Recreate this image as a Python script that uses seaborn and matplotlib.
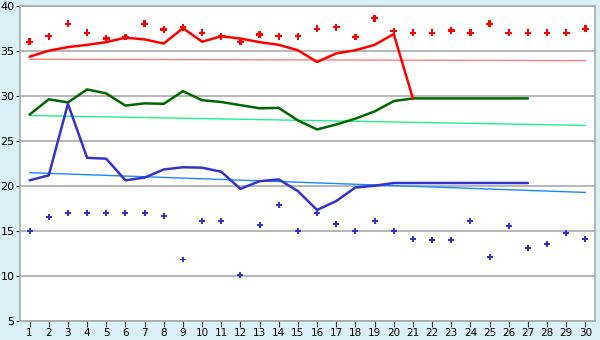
import matplotlib
matplotlib.use("Agg")
import matplotlib.pyplot as plt
import seaborn as sns
import pandas as pd

days = list(range(1, 31))

red_line = [34.33, 35.0, 35.4, 35.65, 35.95, 36.45, 36.25, 35.8, 37.5, 36.0,
            36.6, 36.35, 35.95, 35.65, 35.05, 33.75, 34.7, 35.05, 35.65, 36.85, 29.7]
red_pts = [36.0, 36.6, 38.0, 37.0, 36.35, 36.5, 38.0, 37.35, 37.6, 37.0,
           36.6, 36.0, 36.8, 36.6, 36.6, 37.45, 37.6, 36.5, 38.6, 37.15,
           37.0, 37.0, 37.25, 37.0, 38.0, 37.0, 37.0, 37.0, 37.0, 37.45]
red_trend = [34.05, 33.9]

green_line = [27.9, 29.6, 29.25, 30.7, 30.25, 28.9, 29.15, 29.1, 30.5, 29.5,
              29.3, 28.95, 28.6, 28.65, 27.25, 26.25, 26.8, 27.45, 28.25, 29.4,
              29.7, 29.7, 29.7, 29.7, 29.7, 29.7, 29.7]
green_trend = [27.8, 26.7]

blue_line = [20.6, 21.15, 29.1, 23.1, 23.0, 20.6, 20.9, 21.8, 22.05, 22.0,
             21.55, 19.65, 20.5, 20.7, 19.4, 17.3, 18.3, 19.8, 20.0, 20.3,
             20.3, 20.3, 20.3, 20.3, 20.3, 20.3, 20.3]
blue_pts = [14.95, 16.5, 17.0, 17.0, 17.0, 17.0, 17.0, 16.65, 11.8, 16.05,
            16.05, 10.05, 15.6, 17.9, 15.0, 17.0, 15.7, 15.0, 16.05, 15.0,
            14.05, 13.95, 13.95, 16.05, 12.05, 15.55, 13.05, 13.5, 14.7, 14.05]
blue_trend = [21.45, 19.25]

trend_x = [1, 30]
y_ticks = [5, 10, 15, 20, 25, 30, 35, 40]

BG = "#DAF0F7"
sns.set_theme(style="white")
plt.rcParams['font.family'] = ['DejaVu Sans']

fig = plt.figure(figsize=(6, 3.4), dpi=100, facecolor=BG)
ax = fig.add_axes([20 / 600, 1 - 320.7 / 340, 575 / 600, 315 / 340])
ax.set_facecolor("white")

for y in y_ticks:
    ax.axhline(y, color="#AAAAAA", lw=1.2, zorder=0)

# trend lines
sns.lineplot(x=trend_x, y=red_trend, ax=ax, color="#FF8080", lw=1.0, zorder=1)
sns.lineplot(x=trend_x, y=green_trend, ax=ax, color="#22F08A", lw=1.0, zorder=1)
sns.lineplot(x=trend_x, y=blue_trend, ax=ax, color="#1A88FF", lw=1.0, zorder=1)

# main lines
sns.lineplot(x=days[:len(green_line)], y=green_line, ax=ax, color="#006600", lw=1.8, zorder=3)
sns.lineplot(x=days[:len(blue_line)], y=blue_line, ax=ax, color="#3333CC", lw=1.8, zorder=3)
sns.lineplot(x=days[:len(red_line)], y=red_line, ax=ax, color="#FF0000", lw=1.8, zorder=3)

# points
sns.scatterplot(x=days, y=red_pts, ax=ax, color="#FF0000", marker="P", s=22,
                edgecolor="none", zorder=4)
sns.scatterplot(x=days, y=blue_pts, ax=ax, color="#3333CC", marker="P", s=18,
                edgecolor="none", zorder=4)

ax.set_xlim(0.5, 30.5)
ax.set_ylim(5, 40)
ax.set_xticks(days)
ax.set_xticklabels([str(d) for d in days])
ax.set_yticks(y_ticks)
ax.set_yticklabels([str(v) for v in y_ticks])
ax.tick_params(axis="x", labelsize=7.5, colors="#333333", length=4.3, width=0.8,
               direction="out", pad=1, bottom=True)
ax.tick_params(axis="y", labelsize=8, colors="#333333", length=3, width=0.8,
               direction="out", pad=1, left=True)
ax.tick_params(axis="both", labelcolor="black")
for s in ax.spines.values():
    s.set_color("#AAAAAA")
    s.set_linewidth(1.2)
ax.set_xlabel("")
ax.set_ylabel("")

fig.savefig("out.png", dpi=100, facecolor=BG)
